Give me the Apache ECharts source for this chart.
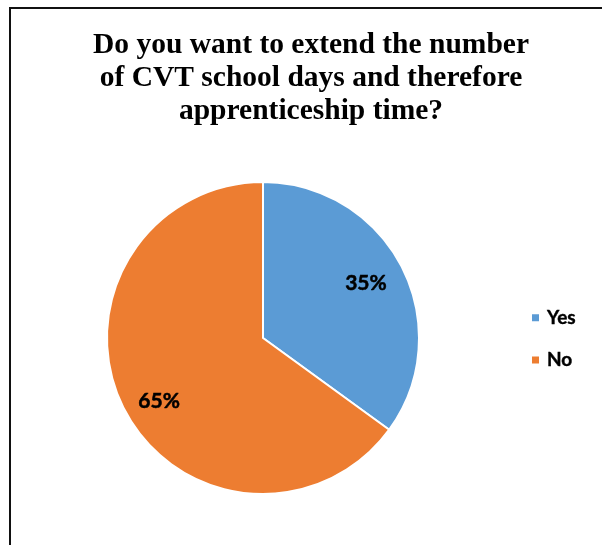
<!DOCTYPE html>
<html>
<head>
<meta charset="utf-8">
<script src="https://cdn.jsdelivr.net/npm/echarts@6/dist/echarts.min.js"></script>
<style>
  html, body { margin: 0; padding: 0; background: #fff; }
  #chart { width: 602px; height: 545px; }
</style>
</head>
<body>
<div id="chart"></div>
<script>
// Survey answers and their shares (percent)
const categories = ['Yes', 'No'];
const shares = [35, 65];
const sliceColors = ['#5B9BD5', '#ED7D31'];
const titleText = 'Do you want to extend the number\nof CVT school days and therefore\napprenticeship time?';

// small nudges for the percentage labels
const labelOffsets = [[-4, 0], [3, 9]];

const chart = echarts.init(document.getElementById('chart'), null, { renderer: 'canvas' });

const pieData = categories.map((name, i) => ({
  name: name,
  value: shares[i],
  itemStyle: { color: sliceColors[i] }
}));

const center = [263, 338];
const outerR = 156;

chart.setOption({
  animation: false,
  backgroundColor: '#ffffff',
  title: {
    text: titleText,
    left: 306,
    top: 24,
    textAlign: 'center',
    textStyle: {
      fontFamily: 'Liberation Serif',
      fontWeight: 'bold',
      fontSize: 29.5,
      lineHeight: 33,
      color: '#000'
    }
  },
  legend: {
    orient: 'vertical',
    left: 530,
    top: 308,
    padding: 0,
    itemWidth: 9,
    itemHeight: 9,
    itemGap: 23,
    icon: 'rect',
    data: categories,
    textStyle: {
      fontFamily: 'Lato',
      fontWeight: 'bold',
      fontSize: 19,
      lineHeight: 19,
      color: '#000',
      textBorderColor: '#000',
      textBorderWidth: 0.4,
      padding: [0, 0, 0, 2]
    }
  },
  graphic: [{
    type: 'rect',
    z: 100,
    silent: true,
    shape: { x: 10, y: 8, width: 800, height: 800 },
    style: { fill: 'none', stroke: '#111', lineWidth: 2 }
  }],
  series: [
    {
      type: 'pie',
      center: center,
      radius: [0, outerR],
      startAngle: 90,
      clockwise: true,
      silent: true,
      label: { show: false },
      labelLine: { show: false },
      itemStyle: { borderColor: '#ffffff', borderWidth: 2 },
      data: pieData
    },
    {
      // transparent ring carrying the percentage labels
      type: 'pie',
      center: center,
      radius: [outerR * 0.5, outerR],
      startAngle: 90,
      clockwise: true,
      silent: true,
      itemStyle: { color: 'rgba(0,0,0,0)' },
      label: {
        show: true,
        position: 'inside',
        formatter: '{c}%',
        fontFamily: 'Lato',
        fontWeight: 'bold',
        fontSize: 21,
        color: '#000',
        textBorderColor: '#000',
        textBorderWidth: 0.5
      },
      labelLine: { show: false },
      data: categories.map((name, i) => ({
        name: name,
        value: shares[i],
        label: { offset: labelOffsets[i] }
      }))
    }
  ]
});
</script>
</body>
</html>
